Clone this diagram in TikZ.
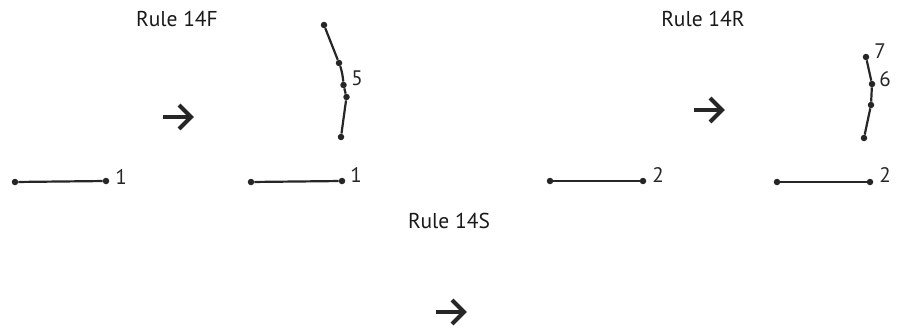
\documentclass[tikz,border=0pt]{standalone}
\usepackage{fontspec}
\setmainfont{PT Sans}
\begin{document}
\begin{tikzpicture}[x=1pt,y=-1pt,
  dot/.style={circle,fill=black!85,inner sep=0pt,minimum size=6.5pt},
  seg/.style={line width=2.2pt,draw=black!85},
  lbl/.style={font=\fontsize{21}{24}\selectfont,text=black!85,inner sep=0pt},
  title/.style={font=\fontsize{21.5}{24}\selectfont,text=black!90,inner sep=0pt},
  bigarrow/.style={line width=4pt,draw=black!85,miter limit=10}]
\useasboundingbox (0,0) rectangle (905,332);
% titles
\node[title] (t14f) at (177,19) {Rule 14F};
\node[title] (t14r) at (703,19) {Rule 14R};
\node[title] (t14s) at (449,221) {Rule 14S};
% arrows
\foreach \n/\cx/\cy in {af/178/117, ar/709/110, as/451/312}{
  \coordinate (\n s) at (\cx-15,\cy);
  \coordinate (\n e) at (\cx+13,\cy);
  \coordinate (\n u) at (\cx+1,\cy-12);
  \coordinate (\n d) at (\cx+1,\cy+12);
  \draw[bigarrow] (\n s) -- (\n e);
  \draw[bigarrow] (\n u) -- (\n e) -- (\n d);
}
% 14F left
\node[dot] (a1) at (15,182) {};
\node[dot] (a2) at (106,181) {};
\draw[seg] (a1) -- (a2);
\node[lbl] (la) at (121,177) {1};
% 14F right
\node[dot] (b1) at (251,182) {};
\node[dot] (b2) at (342,181) {};
\draw[seg] (b1) -- (b2);
\node[lbl] (lb) at (356,175) {1};
\node[dot] (c1) at (324,25) {};
\node[dot] (c2) at (339,63) {};
\node[dot] (c3) at (343.5,85) {};
\node[dot] (c4) at (346.5,97) {};
\node[dot] (c5) at (341,137) {};
\draw[seg] (c1) -- (c2) .. controls (342,71) and (343,78) .. (c3) -- (c4) -- (c5);
\node[lbl] (lc) at (357,78) {5};
% 14R left
\node[dot] (d1) at (550,181) {};
\node[dot] (d2) at (643,181) {};
\draw[seg] (d1) -- (d2);
\node[lbl] (ld) at (658,175) {2};
% 14R right
\node[dot] (e1) at (777,182) {};
\node[dot] (e2) at (870,182) {};
\draw[seg] (e1) -- (e2);
\node[lbl] (le) at (885,175) {2};
\node[dot] (f1) at (866,57) {};
\node[dot] (f2) at (872,84) {};
\node[dot] (f3) at (871,105) {};
\node[dot] (f4) at (864,138) {};
\draw[seg] (f1) -- (f2) -- (f3) -- (f4);
\node[lbl] (lf7) at (880,51) {7};
\node[lbl] (lf6) at (885,79) {6};
\end{tikzpicture}
\end{document}
